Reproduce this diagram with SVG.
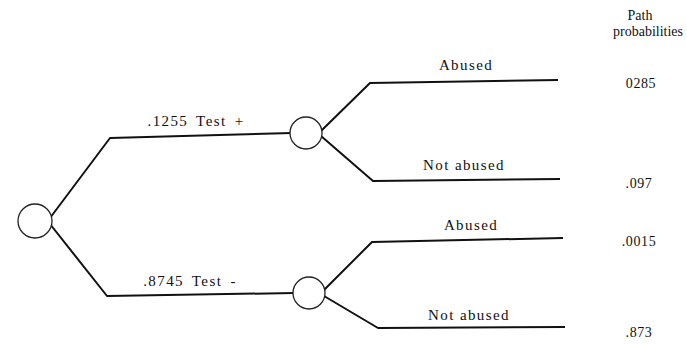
<svg xmlns="http://www.w3.org/2000/svg" width="687" height="344" viewBox="0 0 687 344">
  <style>
    .edge { fill: none; stroke: #111; stroke-width: 2; stroke-linejoin: round; }
    .node { fill: #fff; stroke: #222; stroke-width: 1.3; }
    text { font-family: "Liberation Serif", "Times New Roman", serif; font-size: 14px; fill: #111; }
    .mid { text-anchor: middle; }
    .lbl { font-size: 15px; letter-spacing: 1.4px; }
    .wide { word-spacing: 3px; }
    .num { letter-spacing: 0.6px; }
  </style>
  <rect width="687" height="344" fill="#fff"/>

  <!-- branches of the tree -->
  <g id="connectors">
    <polyline class="edge" points="50,218 110,138 292,133"/>
    <polyline class="edge" points="50,224 107,296 294,293"/>
    <polyline class="edge" points="321,131 370,83 558,80"/>
    <polyline class="edge" points="321,136 373,181 560,179"/>
    <polyline class="edge" points="324,290 372,242 563,238"/>
    <polyline class="edge" points="324,296 378,328 565,327"/>
  </g>

  <!-- edge labels -->
  <g id="labels">
    <text x="196" y="126" class="mid lbl wide">.1255 Test +</text>
    <text x="190" y="286" class="mid lbl wide">.8745 Test -</text>
    <text x="466" y="70" class="mid lbl">Abused</text>
    <text x="464" y="170" class="mid lbl">Not abused</text>
    <text x="471" y="230" class="mid lbl">Abused</text>
    <text x="469" y="320" class="mid lbl">Not abused</text>
  </g>

  <g id="root">
    <circle class="node" cx="35" cy="221" r="17"/>
  </g>
  <g id="chance-positive">
    <circle class="node" cx="306" cy="133" r="16"/>
  </g>
  <g id="chance-negative">
    <circle class="node" cx="309" cy="293" r="16"/>
  </g>

  <!-- path probability column -->
  <g id="path-probabilities">
    <text x="640" y="20" class="mid">Path</text>
    <text x="648" y="36" class="mid">probabilities</text>
    <text x="641" y="88" class="mid num">0285</text>
    <text x="639" y="188" class="mid num">.097</text>
    <text x="639" y="246" class="mid num">.0015</text>
    <text x="639" y="337" class="mid num">.873</text>
  </g>
</svg>
